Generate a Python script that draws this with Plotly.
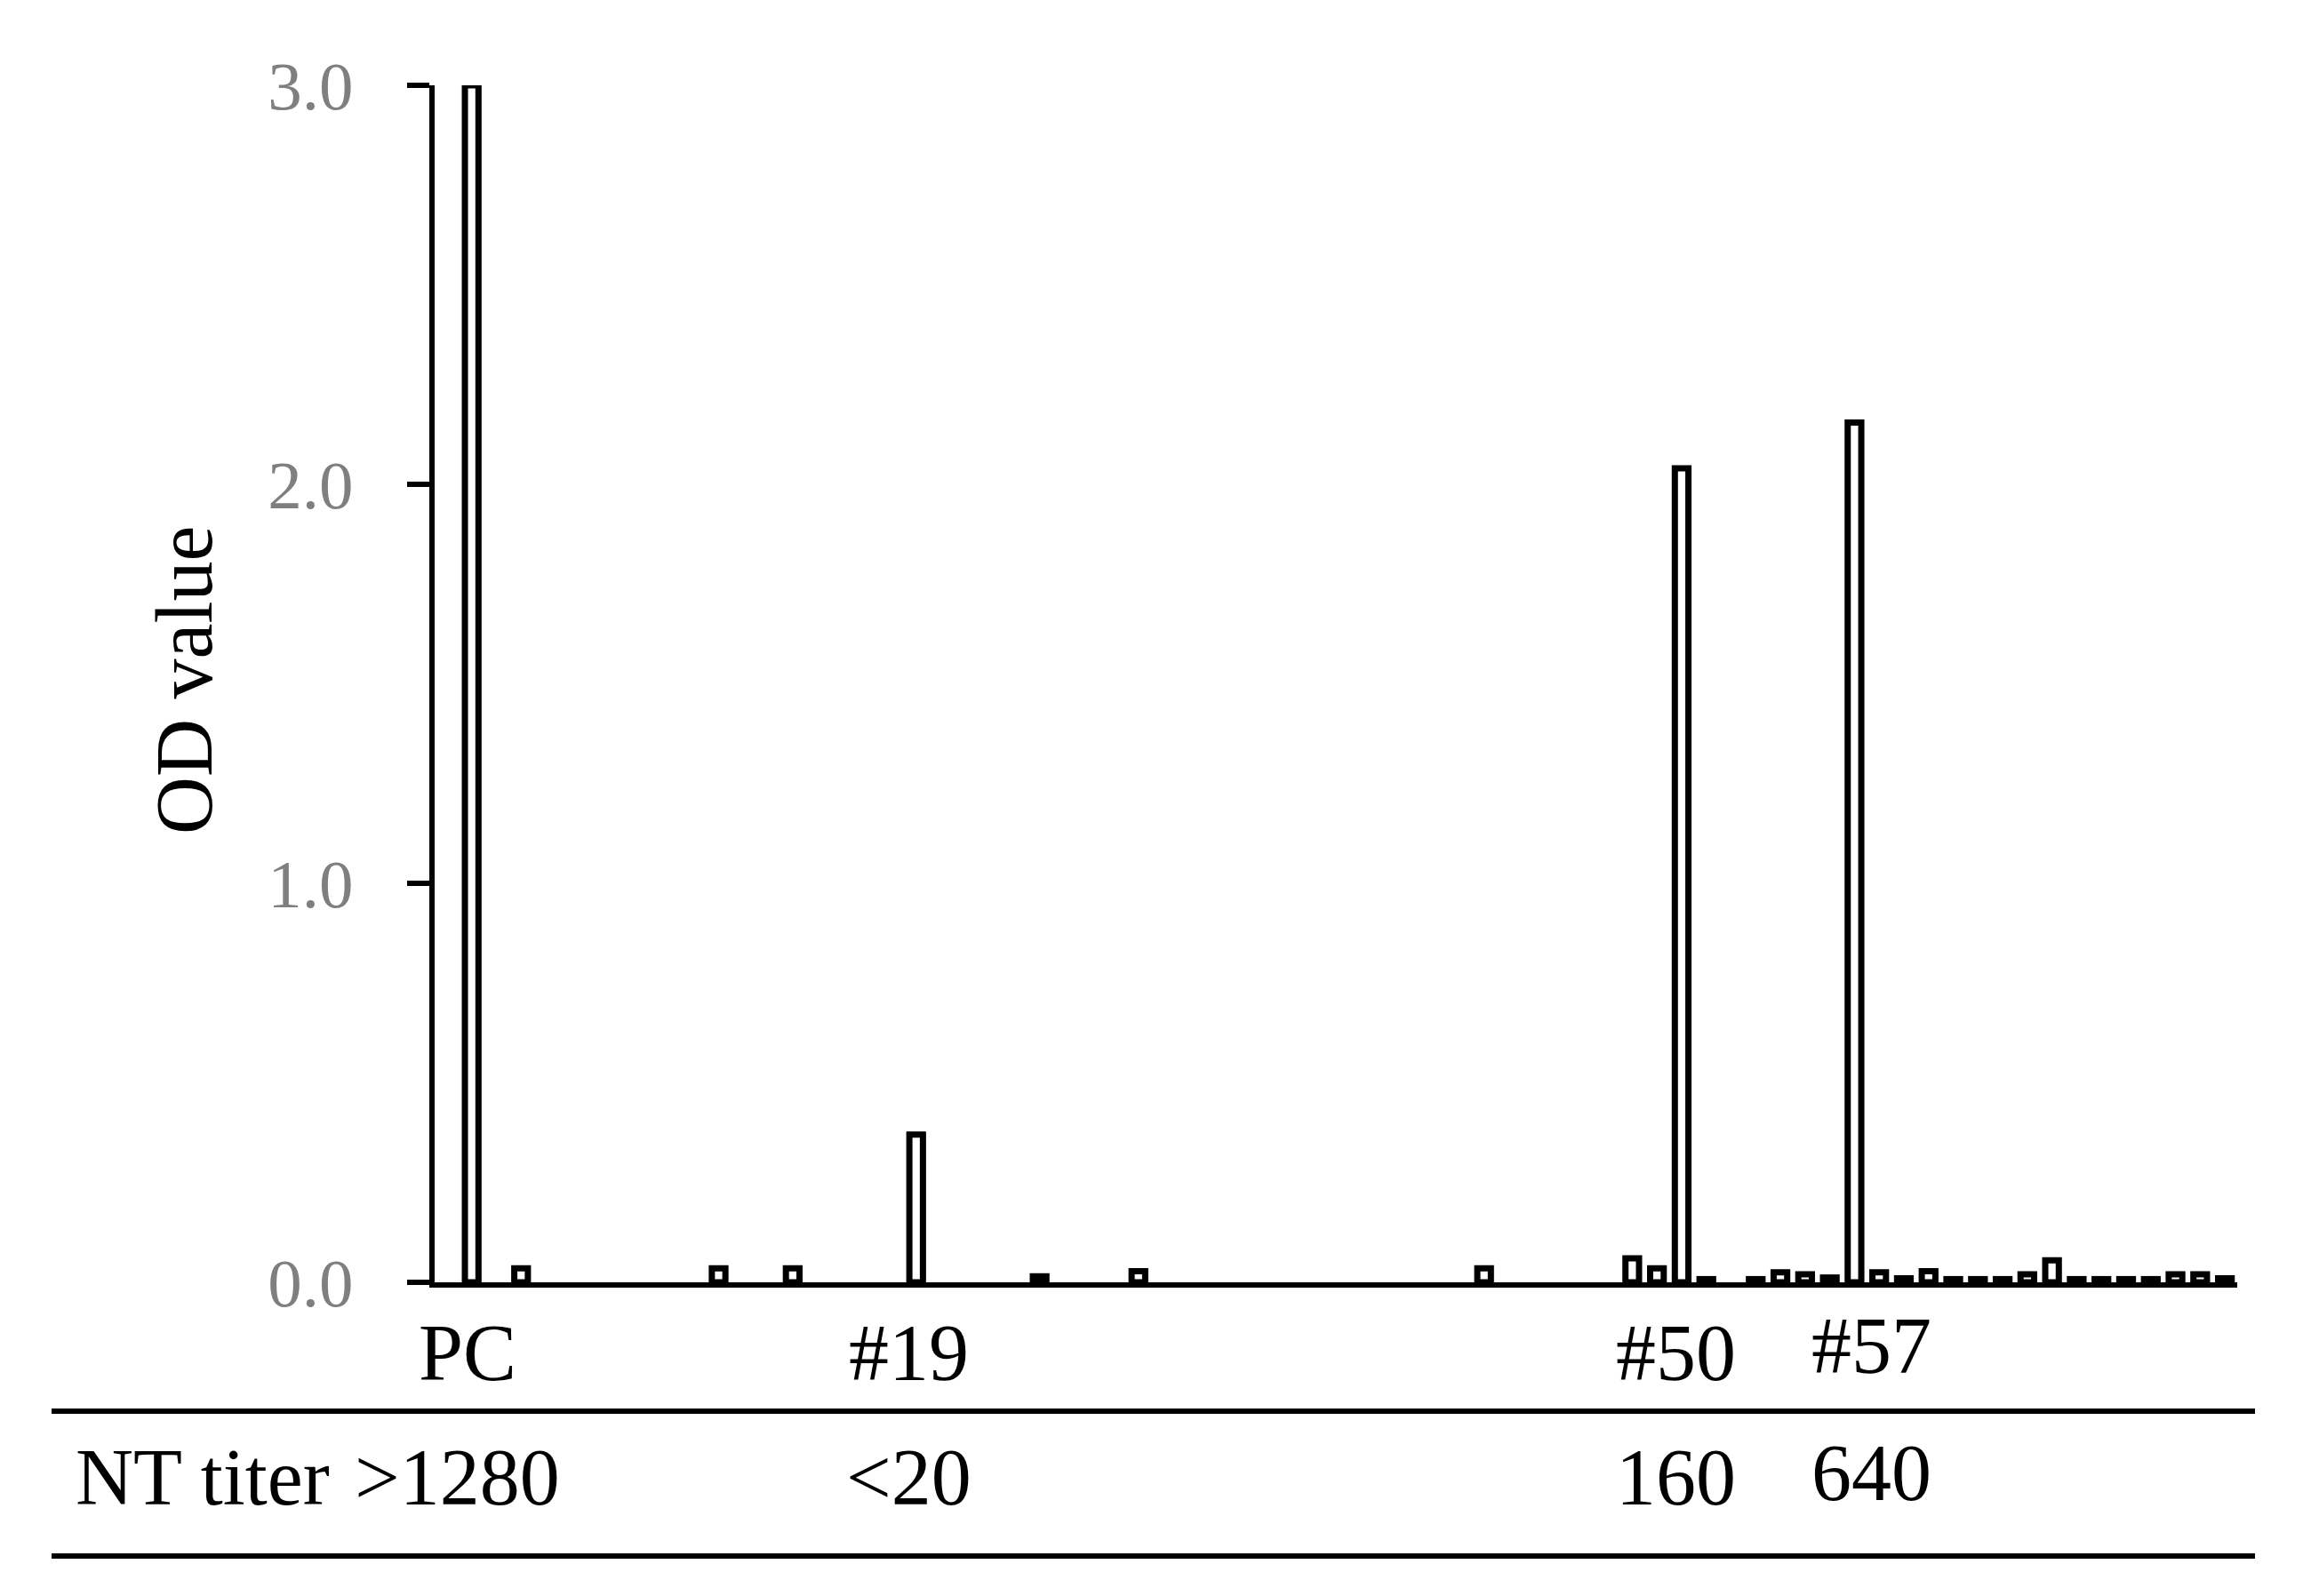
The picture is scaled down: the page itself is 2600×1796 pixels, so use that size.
"""OD values of serum samples, with the NT titer table row underneath."""

import plotly.graph_objects as go

# sample slot on the x axis (0..72); slot 1 is the positive control.
# None = no bar drawn in that slot
SLOTS = list(range(73))
OD_VALUES = [
    None, 3.0, None, 0.035, None, None, None, None, None, None,        # 0-9
    None, 0.035, None, None, 0.035, None, None, None, None, 0.37,      # 10-19
    None, None, None, None, 0.015, None, None, None, 0.028, None,      # 20-29
    None, None, None, None, None, None, None, None, None, None,        # 30-39
    None, None, 0.035, None, None, None, None, None, 0.06, 0.035,      # 40-49
    2.04, 0.008, None, 0.008, 0.025, 0.02, 0.012, 2.155, 0.025, 0.01,  # 50-59
    0.028, 0.008, 0.008, 0.008, 0.02, 0.055, 0.008, 0.008, 0.008, 0.008,  # 60-69
    0.02, 0.02, 0.01,                                                   # 70-72
]

# labelled samples and their neutralisation titers
LABEL_SLOTS = [1, 19, 50, 57]
SAMPLE_LABELS = ["PC", "#19", "#50", "#57"]
NT_TITERS = [">1280", "<20", "160", "640"]
Y_TICKS = [0.0, 1.0, 2.0, 3.0]

# ---- layout, in pixels of the reference picture ----
# the page body has an 8px margin, so the figure is drawn 8px smaller
# on each side and every reference pixel is shifted by that offset
BODY = 8
W, H = 2600 - 2 * BODY, 1796 - 2 * BODY
PLOT_L, PLOT_R, PLOT_T, PLOT_B = 489, 2517, 96, 1443
LABEL_SHIFT = [(-5, 0), (-8, 0), (-6, 0), (19, 8)]
TITER_SHIFT = [(-16, 0), (-8, 0), (-6, 0), (19, 5)]
SERIF = "Liberation Serif, Times New Roman, serif"
LINE_W = 6
BAR_LINE_W = 7


def px_x(px):
    return (px - PLOT_L) / (PLOT_R - PLOT_L)


def px_y(py):
    return (PLOT_B - py) / (PLOT_B - PLOT_T)


fig = go.Figure()
fig.add_trace(go.Bar(
    x=SLOTS, y=OD_VALUES,
    marker=dict(color="white", line=dict(color="black", width=BAR_LINE_W)),
    cliponaxis=False,
    hovertemplate="slot %{x}: %{y:.3f}<extra></extra>",
))

text_font = dict(family=SERIF, size=90, color="black")
annotations = [
    dict(text="OD value", textangle=-90, x=px_x(207), y=px_y(766),
         xanchor="center", yanchor="middle",
         xref="paper", yref="paper", showarrow=False, font=text_font),
    dict(text="NT titer", x=px_x(83), y=px_y(1663),
         xanchor="left", yanchor="middle",
         xref="paper", yref="paper", showarrow=False, font=text_font),
]
for slot, label, titer, s1, s2 in zip(LABEL_SLOTS, SAMPLE_LABELS, NT_TITERS,
                                      LABEL_SHIFT, TITER_SHIFT):
    annotations.append(dict(
        text=label, x=slot, y=px_y(1522), xref="x", yref="paper",
        xanchor="center", yanchor="middle", xshift=s1[0], yshift=s1[1],
        showarrow=False, font=text_font))
    annotations.append(dict(
        text=titer, x=slot, y=px_y(1663), xref="x", yref="paper",
        xanchor="center", yanchor="middle", xshift=s2[0], yshift=s2[1],
        showarrow=False, font=text_font))

# the two rules of the titer table
shapes = [
    dict(type="line", xref="paper", yref="paper",
         x0=px_x(58), x1=px_x(2537), y0=px_y(yy), y1=px_y(yy),
         line=dict(color="black", width=LINE_W))
    for yy in (1588, 1751)
]

fig.update_layout(
    width=W, height=H,
    margin=dict(l=PLOT_L - BODY, r=2600 - BODY - PLOT_R,
                t=PLOT_T - BODY, b=1796 - BODY - PLOT_B, pad=0),
    paper_bgcolor="white", plot_bgcolor="white",
    showlegend=False, bargap=0.45,
    xaxis=dict(range=[-0.5, 72.5], showticklabels=False, ticks="",
               showgrid=False, zeroline=False,
               showline=True, linecolor="black", linewidth=LINE_W),
    yaxis=dict(range=[0, 3.0], tickvals=Y_TICKS, tickformat=".1f",
               ticks="outside", ticklen=25, tickwidth=LINE_W,
               tickcolor="black", ticklabelstandoff=45,
               tickfont=dict(family=SERIF, size=77, color="#7f7f7f"),
               showgrid=False, zeroline=False,
               showline=True, linecolor="black", linewidth=LINE_W),
    annotations=annotations,
    shapes=shapes,
)

fig.write_html("out.html")
